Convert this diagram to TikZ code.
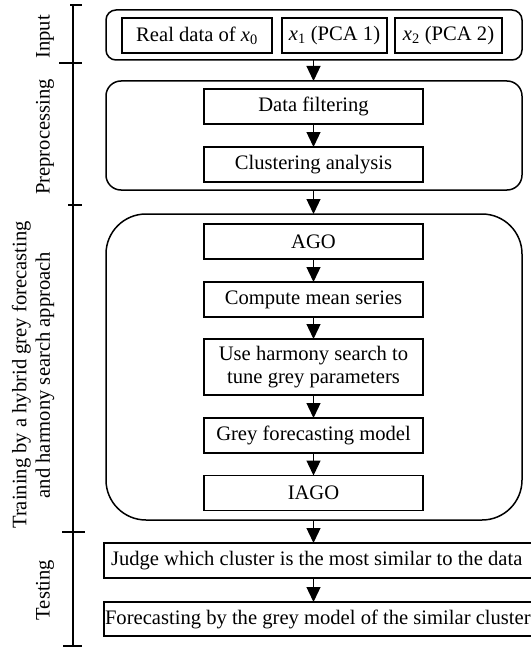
\documentclass[tikz,border=0pt]{standalone}
\usepackage{fontspec}
\setmainfont{Liberation Serif}
\usetikzlibrary{arrows.meta}
\newcommand{\var}[2]{\textit{#1}\textsubscript{#2}}
\begin{document}
\begin{tikzpicture}[x=1pt,y=-1pt,
  every node/.style={font=\fontsize{20.6}{23.5}\selectfont, inner sep=0pt, outer sep=0pt},
  stepbox/.style={draw, line width=1.5pt, minimum height=35pt, align=center},
  widebox/.style={draw, line width=1.5pt, minimum height=35pt, text width=440pt, align=flush left},
  group/.style={draw, line width=1.5pt, rounded corners=#1},
  flow/.style={line width=1.3pt, -{Triangle[width=14pt,length=15pt]}},
  axis/.style={line width=1.3pt},
  stagelabel/.style={rotate=90, align=center}
]
\useasboundingbox (0,0) rectangle (530,650);

% stage axis on the left
\draw[axis] (73,5) -- (73,646);
\draw[axis] (70,5) -- (82,5);
\draw[axis] (59,63) -- (82,63);
\draw[axis] (68,205) -- (82,205);
\draw[axis] (62,532) -- (85,532);
\draw[axis] (63,646) -- (82,646);

\node[stagelabel] (lin) at (45,37) {Input};
\node[stagelabel] (lpre) at (45,137) {Preprocessing};
\node[stagelabel] (ltrain) at (33,375) {Training by a hybrid grey forecasting\\and harmony search approach};
\node[stagelabel] (ltest) at (45,590) {Testing};

% input group
\node[group=10pt, minimum width=416pt, minimum height=50pt] (gin) at (314,35) {};
\node[stepbox, minimum width=150pt] (real) at (197,35.5) {Real data of \var{x}{0}};
\node[stepbox, minimum width=105pt] (pca1) at (334.5,35.5) {\var{x}{1} (PCA 1)};
\node[stepbox, minimum width=107pt] (pca2) at (448.5,35.5) {\var{x}{2} (PCA 2)};

% preprocessing group
\node[group=15pt, minimum width=416pt, minimum height=109pt] (gpre) at (314,135.5) {};
\node[stepbox, minimum width=219pt] (filt) at (313.5,106.5) {Data filtering};
\node[stepbox, minimum width=219pt] (clus) at (313.5,164.5) {Clustering analysis};

% training group
\node[group=40pt, minimum width=416pt, minimum height=306pt] (gtrain) at (314,367) {};
\node[stepbox, minimum width=219pt] (ago) at (313.5,241.5) {AGO};
\node[stepbox, minimum width=219pt] (mean) at (313.5,299.5) {Compute mean series};
\node[stepbox, minimum width=219pt, minimum height=56pt] (hs) at (313.5,367) {Use harmony search to\\tune grey parameters};
\node[stepbox, minimum width=219pt] (grey) at (313.5,435.5) {Grey forecasting model};
\node[stepbox, minimum width=219pt] (iago) at (313.5,493) {IAGO};

% testing steps (they run past the right edge)
\node[widebox] (judge) at (324,560.5) {\hspace*{7pt}Judge which cluster is the most similar to the data};
\node[widebox, minimum height=34pt] (fore) at (324,619) {\hspace*{1pt}Forecasting by the grey model of the similar cluster};

% connectors
\draw[flow] (gin.south -| filt) -- (gpre.north -| filt);
\draw[flow] (filt) -- (clus);
\draw[flow] (gpre.south -| filt) -- (gtrain.north -| filt);
\draw[flow] (ago) -- (mean);
\draw[flow] (mean) -- (hs);
\draw[flow] (hs) -- (grey);
\draw[flow] (grey) -- (iago);
\draw[flow] (gtrain.south -| filt) -- (judge.north -| filt);
\draw[flow] (judge.south -| filt) -- (fore.north -| filt);
\end{tikzpicture}
\end{document}
